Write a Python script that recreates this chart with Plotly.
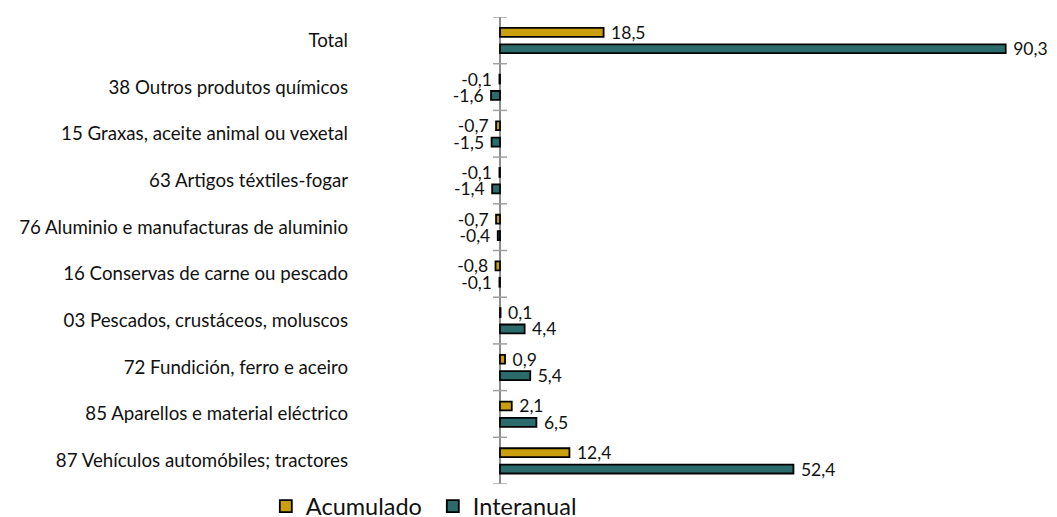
import plotly.graph_objects as go

categories = [
    "Total",
    "38 Outros produtos químicos",
    "15 Graxas, aceite animal ou vexetal",
    "63 Artigos téxtiles-fogar",
    "76 Aluminio e manufacturas de aluminio",
    "16 Conservas de carne ou pescado",
    "03 Pescados, crustáceos, moluscos",
    "72 Fundición, ferro e aceiro",
    "85 Aparellos e material eléctrico",
    "87 Vehículos automóbiles; tractores",
]
acumulado = [18.5, -0.1, -0.7, -0.1, -0.7, -0.8, 0.1, 0.9, 2.1, 12.4]
interanual = [90.3, -1.6, -1.5, -1.4, -0.4, -0.1, 4.4, 5.4, 6.5, 52.4]
series_names = ["Acumulado", "Interanual"]
colors = ["#C9A00C", "#2B6B6B"]

FONT = "Lato"
PAD = "\u00a0"


def labels(vals):
    out = []
    for v in vals:
        s = f"{v:.1f}".replace(".", ",")
        out.append(PAD + s if v >= 0 else s + PAD)
    return out


fig = go.Figure()
bar_w = 0.19
offsets = [-0.266, 0.085]
for name, vals, col, off in zip(series_names, [acumulado, interanual], colors, offsets):
    fig.add_trace(go.Bar(
        name=name, y=categories, x=vals, orientation="h",
        width=bar_w, offset=off,
        marker=dict(color=col, line=dict(color="#000000", width=1.8)),
        text=labels(vals), textposition="outside", constraintext="none",
        cliponaxis=False,
        textfont=dict(family=FONT, size=17.5, color="#111111"),
        hoverinfo="x+y",
    ))

# crossing tick marks on the zero axis at category boundaries
shapes = []
for i in range(len(categories) + 1):
    b = i - 0.5
    shapes.append(dict(type="line", xref="x", yref="y", xsizemode="pixel", xanchor=0,
                       x0=-7, x1=7, y0=b, y1=b,
                       line=dict(color="#A0A0A0", width=1.5)))

fig.update_layout(
    width=1057, height=517,
    margin=dict(l=347, r=0, t=9, b=41, autoexpand=False),
    paper_bgcolor="white", plot_bgcolor="white",
    barmode="overlay",
    showlegend=True,
    shapes=shapes,
    font=dict(family=FONT, color="#111111"),
    xaxis=dict(range=[-25.89, 100.89], showgrid=False, showticklabels=False, ticks="",
               zeroline=True, zerolinecolor="#8C8C8C", zerolinewidth=2, showline=False,
               fixedrange=True, automargin=False),
    yaxis=dict(type="category", categoryorder="array", categoryarray=categories,
               range=[len(categories) - 0.5, -0.5], showgrid=False, showline=False,
               ticks="", ticklabelstandoff=6, automargin=False,
               tickfont=dict(family=FONT, size=18.7, color="#111111")),
    legend=dict(orientation="h", x=-0.1256, xanchor="left", y=-0.048, yanchor="middle",
                font=dict(family=FONT, size=23.5, color="#111111"),
                entrywidth=122, bgcolor="rgba(0,0,0,0)"),
)

fig.write_html("out.html")
